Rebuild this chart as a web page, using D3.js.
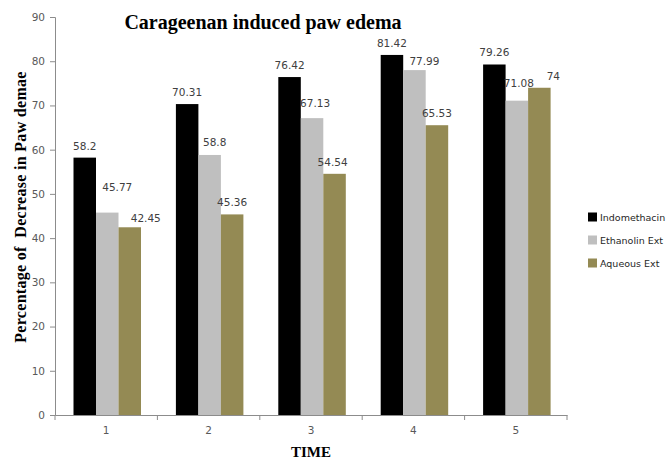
<!DOCTYPE html>
<html>
<head>
<meta charset="utf-8">
<script src="https://cdn.jsdelivr.net/npm/d3@7/dist/d3.min.js"></script>
<style>
  html, body { margin: 0; padding: 0; background: #fff; }
  svg { display: block; }
</style>
</head>
<body>
<svg id="chart" width="670" height="459"></svg>
<script>
// Time points and treatment series
const categories = ["1", "2", "3", "4", "5"];
const seriesNames = ["Indomethacin", "Ethanolin Ext", "Aqueous Ext"];
const indomethacin = [58.2, 70.31, 76.42, 81.42, 79.26];
const ethanolinExt = [45.77, 58.8, 67.13, 77.99, 71.08];
const aqueousExt = [42.45, 45.36, 54.54, 65.53, 74];
const yTicks = [0, 10, 20, 30, 40, 50, 60, 70, 80, 90];

const seriesValues = [indomethacin, ethanolinExt, aqueousExt];
const colors = ["#000000", "#bfbfbf", "#948a54"];

// Hand-placed label offsets (dx, dy) per series and time point
const labelNudge = [
  [[0, 0], [0, 0], [0, 0], [0, 0], [0, 0]],
  [[10, -14], [5, -1], [3, -3], [10, 3], [2, -6]],
  [[16, 3], [0, 0], [-2, 0], [0, 0], [14, 0]]
];

const svg = d3.select("#chart");
const plotLeft = 55, plotRight = 567, plotTop = 17, plotBottom = 415;

const x0 = d3.scaleBand().domain(categories).range([plotLeft, plotRight]).padding(0);
const x1 = d3.scaleBand().domain(seriesNames).range([18.5, 86]).padding(0);
const y = d3.scaleLinear().domain([0, 90]).range([plotBottom, plotTop]);

const axisColor = "#8c8c8c";
const tickFont = "DejaVu Sans, Verdana, sans-serif";

// Y axis
const yAxis = svg.append("g")
  .attr("transform", `translate(${plotLeft},0)`)
  .call(d3.axisLeft(y).tickValues(yTicks).tickSize(5).tickPadding(5).tickFormat(d3.format("d")));
yAxis.select(".domain").attr("stroke", axisColor);
yAxis.selectAll(".tick line").attr("stroke", axisColor);
yAxis.selectAll(".tick text")
  .attr("fill", "#595959").style("font-family", tickFont).style("font-size", "10.5px");

// X axis with ticks at category boundaries
const xAxis = svg.append("g")
  .attr("transform", `translate(0,${plotBottom})`)
  .call(d3.axisBottom(x0).tickSize(0).tickPadding(12));
xAxis.select(".domain").attr("stroke", axisColor);
xAxis.selectAll(".tick text")
  .attr("fill", "#595959").style("font-family", tickFont).style("font-size", "10.5px");
const boundaries = categories.map(c => x0(c)).concat([x0(categories[categories.length - 1]) + x0.bandwidth()]);
svg.append("g").selectAll("line").data(boundaries).join("line")
  .attr("x1", d => d).attr("x2", d => d)
  .attr("y1", plotBottom).attr("y2", plotBottom + 5)
  .attr("stroke", axisColor);

// Bars
const groups = svg.append("g").selectAll("g").data(categories).join("g")
  .attr("transform", c => `translate(${x0(c)},0)`);

groups.selectAll("rect")
  .data((c, ci) => seriesNames.map((s, si) => ({ s, si, ci, v: seriesValues[si][ci] })))
  .join("rect")
  .attr("x", d => x1(d.s))
  .attr("y", d => y(d.v))
  .attr("width", x1.bandwidth())
  .attr("height", d => y(0) - y(d.v))
  .attr("fill", d => colors[d.si]);

// Value labels
groups.selectAll("text.val")
  .data((c, ci) => seriesNames.map((s, si) => ({ s, si, ci, v: seriesValues[si][ci] })))
  .join("text")
  .attr("class", "val")
  .attr("x", d => x1(d.s) + x1.bandwidth() / 2 + labelNudge[d.si][d.ci][0])
  .attr("y", d => y(d.v) - 8 + labelNudge[d.si][d.ci][1])
  .attr("text-anchor", "middle")
  .attr("fill", "#404040")
  .style("font-family", tickFont)
  .style("font-size", "10.5px")
  .text(d => d.v);

// Title
svg.append("text")
  .attr("x", 263).attr("y", 29)
  .attr("text-anchor", "middle")
  .style("font-family", "Liberation Serif, Times New Roman, serif")
  .style("font-weight", "bold")
  .style("font-size", "20px")
  .text("Carageenan induced paw edema");

// Axis titles
svg.append("text")
  .attr("transform", "translate(26,207) rotate(-90)")
  .attr("text-anchor", "middle")
  .style("font-family", "Liberation Serif, Times New Roman, serif")
  .style("font-weight", "bold")
  .style("font-size", "16px")
  .style("letter-spacing", "0.3px")
  .style("white-space", "pre")
  .text("Percentage of  Decrease in Paw demae");

svg.append("text")
  .attr("x", 311).attr("y", 457)
  .attr("text-anchor", "middle")
  .style("font-family", "Liberation Serif, Times New Roman, serif")
  .style("font-weight", "bold")
  .style("font-size", "15px")
  .text("TIME");

// Legend
const legend = svg.append("g").selectAll("g").data(seriesNames).join("g")
  .attr("transform", (d, i) => `translate(588,${217 + i * 23})`);
legend.append("rect")
  .attr("x", 0).attr("y", -4.5).attr("width", 9).attr("height", 9)
  .attr("fill", (d, i) => colors[i]);
legend.append("text")
  .attr("x", 12).attr("y", 4)
  .attr("fill", "#262626")
  .style("font-family", tickFont)
  .style("font-size", "9.5px")
  .text(d => d);
</script>
</body>
</html>
